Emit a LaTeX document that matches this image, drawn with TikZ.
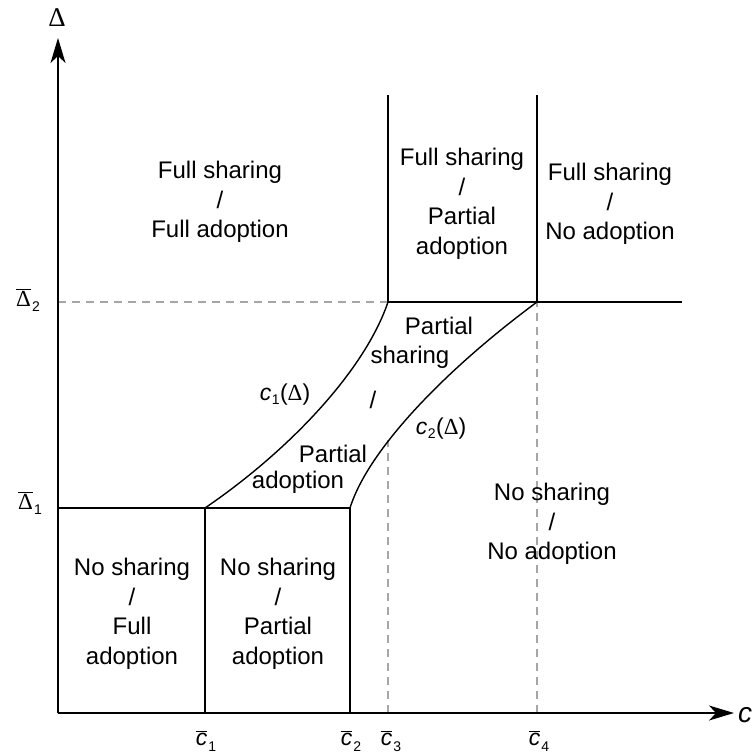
\documentclass[tikz,border=0pt]{standalone}
\usepackage{fontspec}
\setmainfont{Liberation Sans}
\newfontfamily\dfont{Liberation Serif}
\usetikzlibrary{arrows.meta}
\newcommand{\DD}{{\dfont Δ}}
\newcommand{\cbar}[1]{$\overline{\mbox{\itshape c}}$\kern1pt\raisebox{-6pt}{\fontsize{14}{14}\selectfont #1}}
\newcommand{\Dbar}[1]{$\overline{\mbox{\dfont Δ}}$\kern1pt\raisebox{-5pt}{\fontsize{14}{14}\selectfont #1}}
\newcommand{\cfun}[1]{{\itshape c}\kern0.5pt\raisebox{-4pt}{\fontsize{14}{14}\selectfont #1}\kern0.5pt(\DD)}
\begin{document}
\begin{tikzpicture}[x=1pt,y=-1pt,
  bd/.style={line width=1.4pt,black},
  gd/.style={line width=1.3pt,color=black!35,dash pattern=on 8pt off 6pt},
  ax/.style={line width=1.4pt,-{Stealth[length=25pt,width=15pt,inset=7pt]}},
  reg/.style={align=center,font=\fontsize{24}{29.5}\selectfont,inner sep=0pt},
  lab/.style={font=\fontsize{23}{26}\selectfont,inner sep=0pt}]
\useasboundingbox (0,0) rectangle (752,756);
% key coordinates
\coordinate (O) at (58,713);
\coordinate (ytip) at (58,38);
\coordinate (xtip) at (734,713);
\coordinate (A1) at (58,508);
\coordinate (P1) at (205,508);
\coordinate (P2) at (350,508);
\coordinate (B1) at (205,713);
\coordinate (B2) at (350,713);
\coordinate (B3) at (388,713);
\coordinate (B4) at (537,713);
\coordinate (A2) at (58,302);
\coordinate (Q1) at (388,302);
\coordinate (Q2) at (537,302);
\coordinate (R) at (682,302);
\coordinate (T1) at (388,95);
\coordinate (T2) at (537,95);
\coordinate (C3) at (388,440);
% dashed guides
\draw[gd] (A2) -- (Q1);
\draw[gd] (B3) -- (C3);
\draw[gd] (B4) -- (Q2);
% axes
\draw[ax] (O) -- (ytip);
\draw[ax] (O) -- (xtip);
% boundaries
\draw[bd] (A1) -- (P2);
\draw[bd] (P1) -- (B1);
\draw[bd] (P2) -- (B2);
\draw[bd] (Q1) -- (R);
\draw[bd] (Q1) -- (T1);
\draw[bd] (Q2) -- (T2);
\draw[bd] (P1) .. controls (290,450) and (365,370) .. (Q1);
\draw[bd] (P2) .. controls (368,450) and (445,370) .. (Q2);
% axis labels
\node[lab,font=\fontsize{27}{30}\selectfont] (ylab) at (57,18) {\DD};
\node[lab,font=\fontsize{28}{30}\selectfont\itshape] (xlab) at (745,715) {c};
\node[lab] (d2) at (28,300) {\Dbar{2}};
\node[lab] (d1) at (30,503) {\Dbar{1}};
\node[lab] (c1) at (206,741) {\cbar{1}};
\node[lab] (c2) at (351,741) {\cbar{2}};
\node[lab] (c3) at (391,741) {\cbar{3}};
\node[lab] (c4) at (539,741) {\cbar{4}};
% curve labels
\node[lab] (cf1) at (285,395) {\cfun{1}};
\node[lab] (cf2) at (441,429) {\cfun{2}};
% regions
\node[reg] (FF) at (220,202) {Full sharing\\/\\Full adoption};
\node[reg] (FP) at (462,204) {Full sharing\\/\\Partial\\adoption};
\node[reg] (FN) at (610,204) {Full sharing\\/\\No adoption};
\node[reg] (PS1) at (439,326) {Partial};
\node[reg] (PS2) at (410,357) {sharing};
\node[reg] (sl) at (373,400) {/};
\node[reg] (PA1) at (333,454) {Partial};
\node[reg] (PA2) at (298,482) {adoption};
\node[reg] (NN) at (552,524) {No sharing\\/\\No adoption};
\node[reg] (NF) at (132,614) {No sharing\\/\\Full\\adoption};
\node[reg] (NP) at (278,614) {No sharing\\/\\Partial\\adoption};
\end{tikzpicture}
\end{document}
